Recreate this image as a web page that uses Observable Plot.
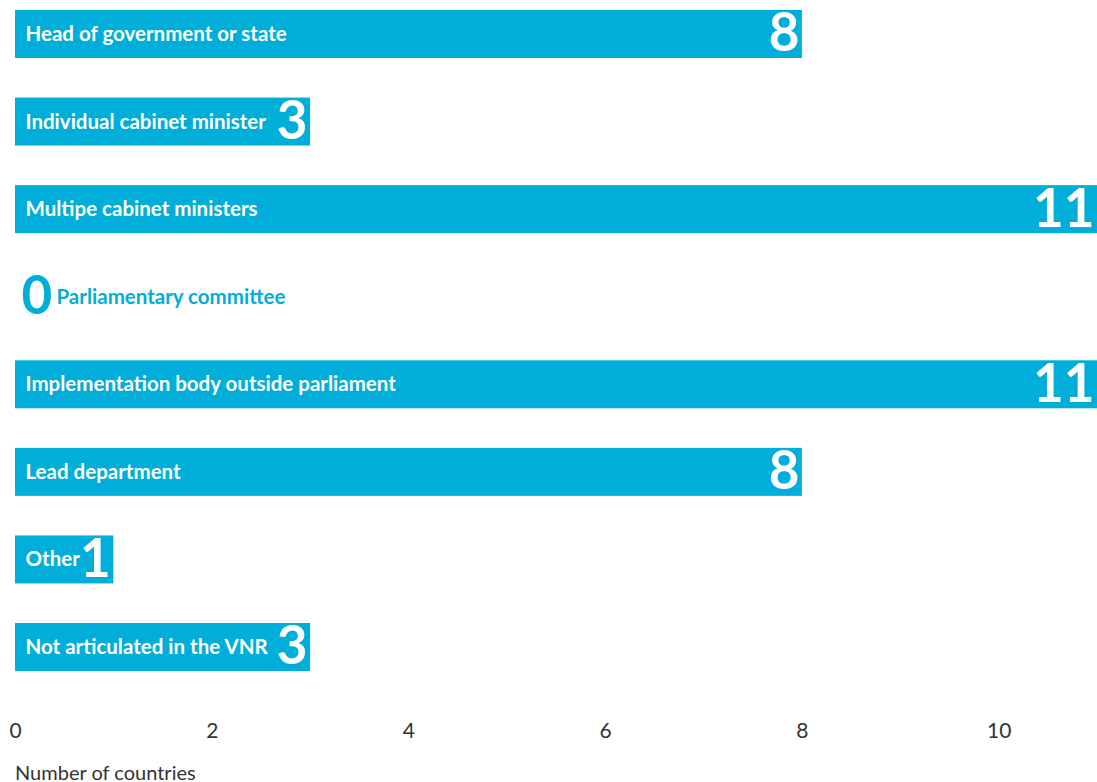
<!DOCTYPE html>
<html>
<head>
<meta charset="utf-8">
<script src="https://cdn.jsdelivr.net/npm/d3@7"></script>
<script src="https://cdn.jsdelivr.net/npm/@observablehq/plot@0.6"></script>
<style>
  html, body { margin: 0; padding: 0; background: #fff; }
  #chart { width: 1097px; }
  .caption { font-family: Lato, "DejaVu Sans Condensed", sans-serif; font-size: 20px; color: #333; padding-left: 15px; line-height: 20px; margin-top: 0; }
</style>
</head>
<body>
<div id="chart"></div>
<script>
const categories = [
  "Head of government or state",
  "Individual cabinet minister",
  "Multipe cabinet ministers",
  "Parliamentary committee",
  "Implementation body outside parliament",
  "Lead department",
  "Other",
  "Not articulated in the VNR"
];
const values = [8, 3, 11, 0, 11, 8, 1, 3];
const xTicks = [0, 2, 4, 6, 8, 10];
const axisTitle = "Number of countries";

const blue = "#00aed9";
const font = 'Lato, "DejaVu Sans Condensed", sans-serif';
const data = categories.map((c, i) => ({category: c, value: values[i]}));
const nonZero = data.filter(d => d.value > 0);
const zero = data.filter(d => d.value === 0);

const chart = Plot.plot({
  width: 1097,
  height: 762,
  marginLeft: 15,
  marginRight: 0,
  marginTop: 10,
  marginBottom: 91,
  style: {fontFamily: font, background: "#fff"},
  x: {domain: [0, 11], axis: null},
  y: {domain: categories, padding: 0.452, paddingOuter: 0, round: false, axis: null},
  marks: [
    Plot.barX(data, {x: "value", y: "category", fill: blue}),
    Plot.text(nonZero, {x: 0, y: "category", text: "category", dx: 10, textAnchor: "start",
      fill: "white", fontWeight: "bold", fontSize: 20.5, fontFamily: font}),
    Plot.text(nonZero, {x: "value", y: "category", text: d => String(d.value), dx: -3, textAnchor: "end",
      fill: "white", fontWeight: "bold", fontSize: 53, fontFamily: font}),
    Plot.text(zero, {x: "value", y: "category", text: d => String(d.value), dx: 6, textAnchor: "start",
      fill: blue, fontWeight: "bold", fontSize: 53, fontFamily: font}),
    Plot.text(zero, {x: "value", y: "category", text: "category", dx: 41, textAnchor: "start",
      fill: blue, fontWeight: "bold", fontSize: 20.5, fontFamily: font}),
    Plot.axisX({ticks: xTicks, tickSize: 0, tickPadding: 52, fontSize: 21, color: "#333", fontFamily: font, label: null})
  ]
});
document.getElementById("chart").appendChild(chart);
const cap = document.createElement("div");
cap.className = "caption";
cap.textContent = axisTitle;
document.getElementById("chart").appendChild(cap);
</script>
</body>
</html>
